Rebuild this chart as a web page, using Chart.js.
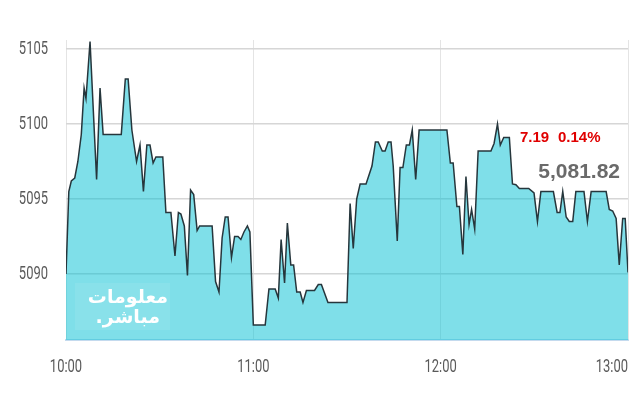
<!DOCTYPE html>
<html lang="ar">
<head>
  <meta charset="UTF-8" />
  <title>Index chart</title>
  <script src="https://cdn.jsdelivr.net/npm/chart.js"></script>
  <style>
    html, body { margin: 0; padding: 0; background: #fff; }
    #wrap { width: 640px; height: 400px; }
  </style>
</head>
<body>
  <div id="wrap"><canvas id="grafico"></canvas></div>

  <script>
    // minutes after 10:00
    const times = [0, 0.9, 1.7, 2.8, 3.8, 4.9, 5.8, 6.4, 7.7, 9.8, 10.9, 11.9, 17.7, 19.0, 19.9,
      21.1, 22.6, 23.7, 24.8, 25.9, 26.9, 27.9, 28.8, 31.0, 32.0, 33.6, 34.9, 36.0, 36.8, 37.9,
      38.9, 39.9, 40.9, 42.0, 42.8, 46.8, 47.9, 49.0, 50.0, 51.0, 51.9, 53.0, 54.0, 55.1, 56.0,
      57.0, 58.1, 58.9, 60.0, 63.8, 65.0, 67.0, 68.0, 68.9, 70.0, 70.9, 72.0, 72.9, 73.9, 75.0,
      75.9, 77.0, 79.6, 80.8, 81.8, 83.9, 90.0, 91.0, 92.0, 93.1, 94.2, 96.1, 98.0, 99.1, 100.0,
      101.3, 102.2, 103.2, 104.1, 104.8, 106.1, 107.0, 107.9, 109.0, 110.0, 110.9, 112.0, 113.1,
      122.0, 123.1, 124.0, 125.2, 126.0, 127.1, 128.1, 129.1, 129.9, 130.9, 132.0, 136.1, 137.1,
      138.2, 139.1, 140.2, 142.0, 143.0, 144.1, 145.2, 148.2, 149.9, 151.0, 152.1, 156.1, 157.3,
      158.2, 159.1, 160.2, 161.2, 162.3, 163.3, 165.9, 167.0, 168.2, 173.0, 174.0, 175.1, 176.2,
      177.2, 178.3, 179.1, 180.0];

    const values = [5090.0, 5095.5, 5096.2, 5096.4, 5097.5, 5099.3, 5102.4, 5101.7, 5105.5, 5096.3,
      5102.4, 5099.3, 5099.3, 5103.0, 5103.0, 5099.6, 5097.5, 5098.6, 5095.5, 5098.6, 5098.6,
      5097.4, 5097.8, 5097.8, 5094.1, 5094.1, 5091.2, 5094.1, 5094.0, 5093.2, 5089.9, 5095.6,
      5095.3, 5092.9, 5093.2, 5093.2, 5089.5, 5088.8, 5092.4, 5093.8, 5093.8, 5091.1, 5092.5,
      5092.5, 5092.3, 5092.8, 5093.2, 5092.8, 5086.6, 5086.6, 5089.0, 5089.0, 5088.4, 5092.3,
      5089.4, 5093.4, 5090.6, 5090.6, 5088.8, 5088.8, 5088.1, 5088.9, 5088.9, 5089.3, 5089.3,
      5088.1, 5088.1, 5094.7, 5091.7, 5095.0, 5096.0, 5096.0, 5097.2, 5098.8, 5098.8, 5098.2,
      5098.2, 5098.8, 5098.8, 5097.2, 5092.2, 5097.1, 5097.1, 5098.6, 5098.6, 5099.6, 5096.3,
      5099.6, 5099.6, 5097.4, 5097.4, 5094.5, 5094.5, 5091.3, 5096.5, 5093.3, 5094.3, 5093.0,
      5098.2, 5098.2, 5098.7, 5100.0, 5098.6, 5099.1, 5099.1, 5096.0, 5095.95, 5095.7, 5095.7,
      5095.4, 5093.5, 5095.5, 5095.5, 5094.1, 5094.1, 5095.5, 5093.8, 5093.5, 5093.5, 5095.5,
      5095.5, 5093.5, 5095.5, 5095.5, 5094.3, 5094.2, 5093.7, 5090.6, 5093.7, 5093.7, 5090.1];

    const yTicks = [5090, 5095, 5100, 5105];
    const xTicks = [0, 60, 120, 180];
    const xLabels = ['10:00', '11:00', '12:00', '13:00'];

    const change = '7.19';
    const changePct = '0.14%';
    const lastValue = '5,081.82';
    const brand = ['معلومات', 'مباشر.'];

    // narrow axis text: squeeze a normal font horizontally
    function textoEstreito(ctx, txt, x, y, align) {
      ctx.save();
      ctx.translate(x, y);
      ctx.scale(0.72, 1);
      ctx.textAlign = align;
      ctx.textBaseline = 'middle';
      ctx.fillText(txt, 0, 0);
      ctx.restore();
    }

    const extras = {
      id: 'extras',
      afterDatasetsDraw(chart) {
        const ctx = chart.ctx;
        ctx.save();
        // watermark
        ctx.fillStyle = 'rgba(255,255,255,0.08)';
        ctx.fillRect(75, 283, 95, 47);
        ctx.fillStyle = '#ffffff';
        ctx.font = "bold 19px 'DejaVu Sans', sans-serif";
        ctx.textAlign = 'right';
        ctx.textBaseline = 'middle';
        ctx.direction = 'rtl';
        ctx.fillText(brand[0], 168, 298);
        ctx.fillText(brand[1], 160, 318);
        ctx.restore();
      },
      afterDraw(chart) {
        const ctx = chart.ctx;
        const sx = chart.scales.x;
        const sy = chart.scales.y;
        ctx.save();
        ctx.font = "18px Roboto, 'DejaVu Sans', sans-serif";
        ctx.fillStyle = '#5a5a5a';
        xTicks.forEach((t, i) => {
          const al = i === xTicks.length - 1 ? 'right' : 'center';
          textoEstreito(ctx, xLabels[i], sx.getPixelForValue(t), 367, al);
        });
        yTicks.forEach(v => {
          textoEstreito(ctx, String(v), 48, sy.getPixelForValue(v), 'right');
        });

        ctx.textBaseline = 'middle';
        ctx.textAlign = 'left';
        ctx.fillStyle = '#e00000';
        ctx.font = "bold 15px 'Liberation Sans', Arial, sans-serif";
        ctx.fillText(change, 520, 138);
        ctx.fillText(changePct, 558, 138);

        ctx.fillStyle = '#6a6a6a';
        ctx.font = "bold 21px 'Liberation Sans', Arial, sans-serif";
        ctx.textAlign = 'right';
        ctx.fillText(lastValue, 620, 172);
        ctx.restore();
      }
    };

    new Chart(document.getElementById('grafico'), {
      type: 'line',
      data: {
        datasets: [{
          data: times.map((t, i) => ({ x: t, y: values[i] })),
          borderColor: '#26363c',
          borderWidth: 1.5,
          backgroundColor: 'rgba(0, 192, 212, 0.5)',
          fill: 'start',
          pointRadius: 0,
          tension: 0
        }]
      },
      options: {
        responsive: true,
        maintainAspectRatio: false,
        animation: false,
        layout: { padding: { top: 40, right: 12, left: 0, bottom: 0 } },
        plugins: { legend: { display: false }, tooltip: { enabled: false } },
        scales: {
          x: {
            type: 'linear',
            min: 0,
            max: 180,
            afterBuildTicks: s => { s.ticks = xTicks.map(v => ({ value: v })); },
            afterFit: s => { s.height = 60; },
            ticks: { display: false },
            grid: { color: '#e4e4e4', lineWidth: 1, drawTicks: false },
            border: { display: true, color: '#c4daee', width: 2 }
          },
          y: {
            min: 5085.6,
            max: 5105.6,
            afterBuildTicks: s => { s.ticks = yTicks.map(v => ({ value: v })); },
            afterFit: s => { s.width = 66; },
            ticks: { display: false },
            grid: { color: '#d6d6d6', lineWidth: 1.5, drawTicks: false },
            border: { display: false }
          }
        }
      },
      plugins: [extras]
    });
  </script>
</body>
</html>
